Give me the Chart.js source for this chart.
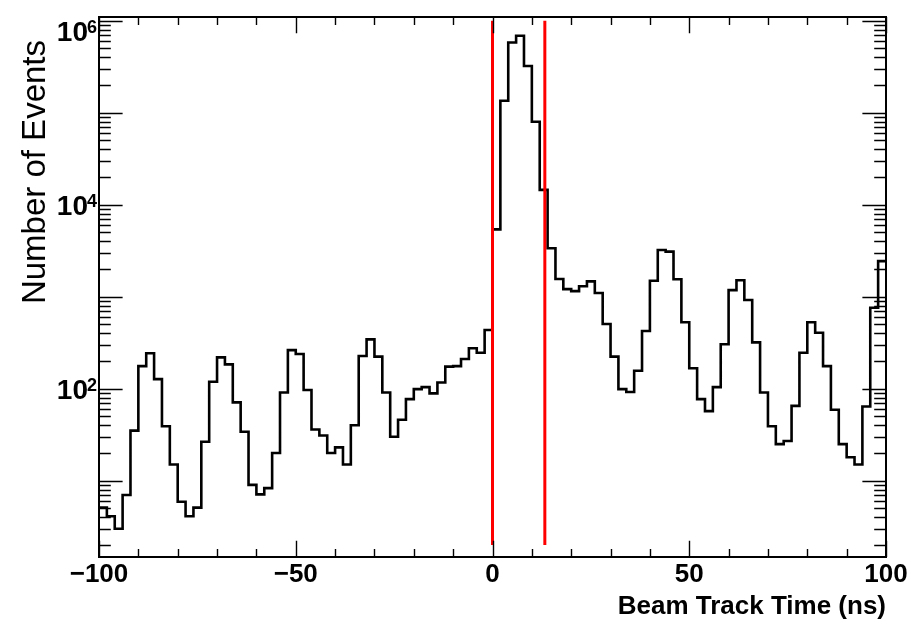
<!DOCTYPE html>
<html>
<head>
<meta charset="utf-8">
<script src="https://cdn.jsdelivr.net/npm/chart.js@4.4.1/dist/chart.umd.min.js"></script>
<style>
  html, body { margin: 0; padding: 0; background: #fff; }
  #wrap { width: 911px; height: 621px; position: relative; }
</style>
</head>
<body>
<div id="wrap"><canvas id="c"></canvas></div>
<script>
// ---- data ----
const binEdges = [
  -100,-98,-96,-94,-92,-90,-88,-86,-84,-82,-80,-78,-76,-74,-72,-70,-68,-66,-64,-62,
  -60,-58,-56,-54,-52,-50,-48,-46,-44,-42,-40,-38,-36,-34,-32,-30,-28,-26,-24,-22,
  -20,-18,-16,-14,-12,-10,-8,-6,-4,-2,0,2,4,6,8,10,12,14,16,18,
  20,22,24,26,28,30,32,34,36,38,40,42,44,46,48,50,52,54,56,58,
  60,62,64,66,68,70,72,74,76,78,80,82,84,86,88,90,92,94,96,98,100
];
const eventCounts = [
  5.1, 4.1, 3.0, 7.0, 35, 176, 243, 127, 39, 15,
  5.9, 4.1, 5.1, 26.5, 119, 219, 184, 71, 34, 9.0,
  7.1, 8.3, 20, 91, 263, 238, 97, 36, 31, 20,
  23, 15, 40, 227, 344, 223, 91, 30, 46, 77,
  99, 104, 89, 117, 174, 176, 210, 275, 246, 435,
  5400, 135000, 582000, 687000, 322000, 79800, 14500, 3360, 1560, 1210,
  1150, 1300, 1470, 1100, 505, 223, 99, 92, 157, 424,
  1490, 3220, 3090, 1550, 527, 167, 77, 57, 104, 304,
  1180, 1510, 921, 319, 91, 39, 25, 27, 65, 246,
  527, 406, 176, 59, 25, 18, 15, 64, 759, 2440
];
const cutTimes = [0, 13.3];          // red selection lines (ns)
const cutLineRange = [2, 1e6];       // vertical extent of red lines
const xLabelTicks = [-100, -50, 0, 50, 100];
const xMinorTicks = [-90,-80,-70,-60,-40,-30,-20,-10,10,20,30,40,60,70,80,90];
const yLabelValues = [1e2, 1e4, 1e6];
const yTickBase = ['10', '10', '10'];
const yTickExp = ['2', '4', '6'];
const xTitle = 'Beam Track Time (ns)';
const yTitle = 'Number of Events';

// ---- chart ----
const FONT = '"Liberation Sans", Arial, Helvetica, sans-serif';
Chart.defaults.font.family = FONT;
Chart.defaults.color = '#000';

const histData = binEdges.map((e, i) => ({ x: e, y: eventCounts[Math.min(i, eventCounts.length - 1)] }));
const cutDatasets = cutTimes.map(t => ({
  data: cutLineRange.map(v => ({ x: t, y: v })),
  borderColor: '#ff0000', borderWidth: 3, pointRadius: 0, fill: false, order: 0
}));

const frameTicks = {
  id: 'frameTicks',
  afterDraw(chart) {
    const { ctx, chartArea: a, scales: { x, y } } = chart;
    const W = a.right - a.left, H = a.bottom - a.top;
    const xMaj = 0.03 * H, xMin = xMaj / 2, yMaj = 0.03 * W, yMin = yMaj / 2;
    ctx.save();
    ctx.strokeStyle = '#000';
    ctx.lineWidth = 1.4;
    ctx.beginPath();
    const xt = (v, len) => {
      const px = Math.round(x.getPixelForValue(v)) + 0.5;
      ctx.moveTo(px, a.bottom); ctx.lineTo(px, a.bottom - len);
      ctx.moveTo(px, a.top); ctx.lineTo(px, a.top + len);
    };
    xLabelTicks.forEach(v => xt(v, xMaj));
    xMinorTicks.forEach(v => xt(v, xMin));
    for (let d = 0; d <= 6; d++) {
      for (let m = 1; m <= 9; m++) {
        const v = m * Math.pow(10, d);
        if (v < y.min || v > y.max) continue;
        const py = Math.round(y.getPixelForValue(v)) + 0.5;
        const len = m === 1 ? yMaj : yMin;
        ctx.moveTo(a.left, py); ctx.lineTo(a.left + len, py);
        ctx.moveTo(a.right, py); ctx.lineTo(a.right - len, py);
      }
    }
    ctx.stroke();
    ctx.lineWidth = 2;
    ctx.strokeRect(a.left, a.top, W, H);

    // y tick labels with superscript exponents
    ctx.fillStyle = '#000';
    ctx.textBaseline = 'alphabetic';
    yLabelValues.forEach((v, i) => {
      const py = y.getPixelForValue(v);
      const cy = Math.max(py, a.top + 14);
      const base = cy + 10;
      ctx.font = 'bold 18px ' + FONT;
      const ew = ctx.measureText(yTickExp[i]).width;
      const ex = a.left - 2 - ew;
      ctx.textAlign = 'left';
      ctx.fillText(yTickExp[i], ex, base - 8);
      ctx.font = 'bold 28px ' + FONT;
      ctx.textAlign = 'right';
      ctx.fillText(yTickBase[i], ex + 1, base);
    });

    // y axis title (ROOT style: aligned to top end)
    ctx.translate(45, 40);
    ctx.rotate(-Math.PI / 2);
    ctx.font = '33px ' + FONT;
    ctx.textAlign = 'right';
    ctx.textBaseline = 'alphabetic';
    ctx.fillText(yTitle, 0, 0);
    ctx.restore();
  }
};

new Chart(document.getElementById('c'), {
  type: 'line',
  data: {
    datasets: [
      { data: histData, stepped: true, borderColor: '#000', borderWidth: 2.6,
        pointRadius: 0, fill: false, order: 1 },
      ...cutDatasets
    ]
  },
  options: {
    responsive: true,
    maintainAspectRatio: false,
    animation: false,
    devicePixelRatio: 1,
    layout: { padding: { top: 17, right: 25, left: 0, bottom: 0 } },
    plugins: { legend: { display: false }, tooltip: { enabled: false } },
    scales: {
      x: {
        type: 'linear', min: -100, max: 100,
        grid: { display: false, drawTicks: false },
        border: { display: false },
        ticks: {
          stepSize: 50, autoSkip: false, maxRotation: 0, padding: 2,
          font: { size: 26, weight: 'bold' },
          callback: (v) => v < 0 ? '\u2212' + Math.abs(v) : String(v)
        },
        title: {
          display: true, text: xTitle, align: 'end',
          font: { size: 26, weight: 'bold', lineHeight: 1 },
          padding: { top: 0, bottom: 1 }
        },
        afterFit: (s) => { s.height = 64; }
      },
      y: {
        type: 'logarithmic', min: 1.48, max: 1.1e6,
        grid: { display: false, drawTicks: false },
        border: { display: false },
        afterBuildTicks: (s) => { s.ticks = yLabelValues.map(v => ({ value: v })); },
        ticks: { display: false },
        afterFit: (s) => { s.width = 99; }
      }
    }
  },
  plugins: [frameTicks]
});
</script>
</body>
</html>
